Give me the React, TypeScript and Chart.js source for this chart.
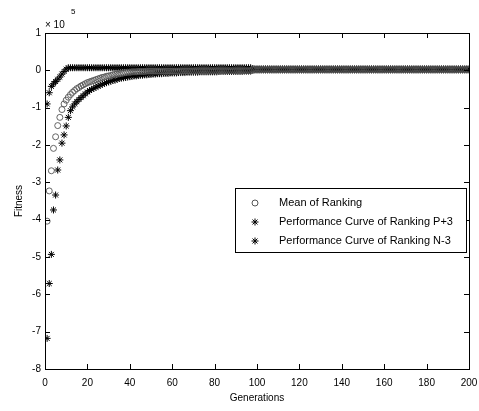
import React, { useEffect, useRef } from 'react';
import { Chart, registerables } from 'chart.js';

Chart.register(...registerables);

const GENERATIONS: number[] = Array.from({ length: 200 }, (_, i) => i + 1);

// Fitness values in units of 10^5
const MEAN_OF_RANKING: number[] = [
  -4.04, -3.23, -2.69, -2.09, -1.78, -1.48, -1.26, -1.05, -0.90, -0.80,
  -0.72, -0.65, -0.59, -0.54, -0.49, -0.46, -0.42, -0.39, -0.36, -0.33,
  -0.31, -0.29, -0.27, -0.25, -0.23, -0.21, -0.19, -0.18, -0.16, -0.15,
  -0.14, -0.12, -0.11, -0.10, -0.09, -0.08, -0.07, -0.06, -0.05, -0.05,
  -0.04, -0.04, -0.04, -0.03, -0.03, -0.03, -0.03, -0.02, -0.02, -0.02,
  -0.02, -0.02, -0.02, -0.02, -0.02, -0.02, -0.02, -0.02, -0.02, -0.02,
  -0.02, -0.02, -0.02, -0.015, -0.015, -0.015, -0.015, -0.015, -0.015, -0.015,
  -0.01, -0.01, -0.01, -0.01, -0.01, -0.01, -0.01, -0.01, -0.01, -0.01,
  -0.01, -0.01, -0.01, -0.01, -0.01, -0.01, -0.01, -0.01, -0.01, -0.01,
  -0.01, -0.01, -0.01, -0.01, -0.01, -0.01, -0.01, 0.02, 0.02, 0.02,
  0.02, 0.02, 0.02, 0.02, 0.02, 0.02, 0.02, 0.02, 0.02, 0.02,
  0.02, 0.02, 0.02, 0.02, 0.02, 0.02, 0.02, 0.02, 0.02, 0.02,
  0.02, 0.02, 0.02, 0.02, 0.02, 0.02, 0.02, 0.02, 0.02, 0.02,
  0.02, 0.02, 0.02, 0.02, 0.02, 0.02, 0.02, 0.02, 0.02, 0.02,
  0.02, 0.02, 0.02, 0.02, 0.02, 0.02, 0.02, 0.02, 0.02, 0.02,
  0.02, 0.02, 0.02, 0.02, 0.02, 0.02, 0.02, 0.02, 0.02, 0.02,
  0.02, 0.02, 0.02, 0.02, 0.02, 0.02, 0.02, 0.02, 0.02, 0.02,
  0.02, 0.02, 0.02, 0.02, 0.02, 0.02, 0.02, 0.02, 0.02, 0.02,
  0.02, 0.02, 0.02, 0.02, 0.02, 0.02, 0.02, 0.02, 0.02, 0.02,
  0.02, 0.02, 0.02, 0.02, 0.02, 0.02, 0.02, 0.02, 0.02, 0.02,
];

const RANKING_P3: number[] = [
  -7.18, -5.71, -4.93, -3.74, -3.34, -2.67, -2.40, -1.95, -1.73, -1.49,
  -1.26, -1.08, -0.98, -0.90, -0.84, -0.78, -0.73, -0.68, -0.63, -0.58,
  -0.54, -0.51, -0.48, -0.45, -0.42, -0.40, -0.37, -0.35, -0.33, -0.31,
  -0.29, -0.27, -0.26, -0.24, -0.22, -0.21, -0.20, -0.19, -0.18, -0.17,
  -0.16, -0.15, -0.15, -0.14, -0.13, -0.13, -0.12, -0.12, -0.11, -0.11,
  -0.10, -0.10, -0.09, -0.09, -0.09, -0.08, -0.08, -0.08, -0.07, -0.07,
  -0.07, -0.07, -0.06, -0.06, -0.06, -0.06, -0.05, -0.05, -0.05, -0.05,
  -0.05, -0.05, -0.04, -0.04, -0.04, -0.04, -0.04, -0.04, -0.04, -0.04,
  -0.04, -0.03, -0.03, -0.03, -0.03, -0.03, -0.03, -0.03, -0.03, -0.03,
  -0.03, -0.03, -0.03, -0.02, -0.02, -0.02, -0.02, 0.01, 0.01, 0.01,
  0.01, 0.01, 0.01, 0.01, 0.01, 0.01, 0.01, 0.01, 0.01, 0.01,
  0.01, 0.01, 0.01, 0.01, 0.01, 0.01, 0.01, 0.01, 0.01, 0.01,
  0.01, 0.01, 0.01, 0.01, 0.01, 0.01, 0.01, 0.01, 0.01, 0.01,
  0.01, 0.01, 0.01, 0.01, 0.01, 0.01, 0.01, 0.01, 0.01, 0.01,
  0.01, 0.01, 0.01, 0.01, 0.01, 0.01, 0.01, 0.01, 0.01, 0.01,
  0.01, 0.01, 0.01, 0.01, 0.01, 0.01, 0.01, 0.01, 0.01, 0.01,
  0.01, 0.01, 0.01, 0.01, 0.01, 0.01, 0.01, 0.01, 0.01, 0.01,
  0.01, 0.01, 0.01, 0.01, 0.01, 0.01, 0.01, 0.01, 0.01, 0.01,
  0.01, 0.01, 0.01, 0.01, 0.01, 0.01, 0.01, 0.01, 0.01, 0.01,
  0.01, 0.01, 0.01, 0.01, 0.01, 0.01, 0.01, 0.01, 0.01, 0.01,
];

const RANKING_N3: number[] = [
  -0.90, -0.60, -0.43, -0.36, -0.30, -0.24, -0.18, -0.10, -0.03, 0.03,
  0.07, 0.07, 0.07, 0.07, 0.07, 0.07, 0.07, 0.07, 0.07, 0.07,
  0.07, 0.07, 0.07, 0.07, 0.07, 0.07, 0.07, 0.07, 0.07, 0.07,
  0.07, 0.07, 0.07, 0.07, 0.07, 0.07, 0.07, 0.07, 0.07, 0.07,
  0.07, 0.07, 0.07, 0.07, 0.07, 0.07, 0.07, 0.07, 0.07, 0.07,
  0.07, 0.07, 0.07, 0.07, 0.07, 0.07, 0.07, 0.07, 0.07, 0.07,
  0.07, 0.07, 0.07, 0.07, 0.07, 0.07, 0.07, 0.07, 0.07, 0.07,
  0.07, 0.07, 0.07, 0.07, 0.07, 0.07, 0.07, 0.07, 0.07, 0.07,
  0.07, 0.07, 0.07, 0.07, 0.07, 0.07, 0.07, 0.07, 0.07, 0.07,
  0.07, 0.07, 0.07, 0.07, 0.07, 0.07, 0.07, 0.04, 0.04, 0.04,
  0.04, 0.04, 0.04, 0.04, 0.04, 0.04, 0.04, 0.04, 0.04, 0.04,
  0.04, 0.04, 0.04, 0.04, 0.04, 0.04, 0.04, 0.04, 0.04, 0.04,
  0.04, 0.04, 0.04, 0.04, 0.04, 0.04, 0.04, 0.04, 0.04, 0.04,
  0.04, 0.04, 0.04, 0.04, 0.04, 0.04, 0.04, 0.04, 0.04, 0.04,
  0.04, 0.04, 0.04, 0.04, 0.04, 0.04, 0.04, 0.04, 0.04, 0.04,
  0.04, 0.04, 0.04, 0.04, 0.04, 0.04, 0.04, 0.04, 0.04, 0.04,
  0.04, 0.04, 0.04, 0.04, 0.04, 0.04, 0.04, 0.04, 0.04, 0.04,
  0.04, 0.04, 0.04, 0.04, 0.04, 0.04, 0.04, 0.04, 0.04, 0.04,
  0.04, 0.04, 0.04, 0.04, 0.04, 0.04, 0.04, 0.04, 0.04, 0.04,
  0.04, 0.04, 0.04, 0.04, 0.04, 0.04, 0.04, 0.04, 0.04, 0.04,
];

const X_TICKS: number[] = [0, 20, 40, 60, 80, 100, 120, 140, 160, 180, 200];
const Y_TICKS: number[] = [-8, -7, -6, -5, -4, -3, -2, -1, 0, 1];
const LEGEND_LABELS: string[] = [
  'Mean of Ranking',
  'Performance Curve of Ranking P+3',
  'Performance Curve of Ranking N-3',
];
const X_TITLE = 'Generations';
const Y_TITLE = 'Fitness';

const FONT = 'Liberation Sans, Arial, Helvetica, sans-serif';

function drawStar(ctx: CanvasRenderingContext2D, x: number, y: number, r: number) {
  ctx.beginPath();
  ctx.moveTo(x - r, y); ctx.lineTo(x + r, y);
  ctx.moveTo(x, y - r); ctx.lineTo(x, y + r);
  const d = r * Math.SQRT1_2;
  ctx.moveTo(x - d, y - d); ctx.lineTo(x + d, y + d);
  ctx.moveTo(x - d, y + d); ctx.lineTo(x + d, y - d);
  ctx.stroke();
}

const framePlugin = {
  id: 'matlabFrame',
  beforeDraw(chart: any) {
    const ctx = chart.ctx;
    ctx.save();
    ctx.fillStyle = '#ffffff';
    ctx.fillRect(0, 0, chart.width, chart.height);
    ctx.restore();
  },
  afterDraw(chart: any) {
    const ctx: CanvasRenderingContext2D = chart.ctx;
    const { left, right, top, bottom } = chart.chartArea;
    const xs = chart.scales.x;
    const ys = chart.scales.y;
    ctx.save();
    ctx.strokeStyle = '#000';
    ctx.lineWidth = 1;
    // box
    ctx.strokeRect(Math.round(left) + 0.5, Math.round(top) + 0.5, Math.round(right - left), Math.round(bottom - top));
    // inward ticks
    const tl = 5;
    ctx.beginPath();
    X_TICKS.forEach((v) => {
      const px = Math.round(xs.getPixelForValue(v)) + 0.5;
      ctx.moveTo(px, bottom); ctx.lineTo(px, bottom - tl);
      ctx.moveTo(px, top); ctx.lineTo(px, top + tl);
    });
    Y_TICKS.forEach((v) => {
      const py = Math.round(ys.getPixelForValue(v)) + 0.5;
      ctx.moveTo(left, py); ctx.lineTo(left + tl, py);
      ctx.moveTo(right, py); ctx.lineTo(right - tl, py);
    });
    ctx.stroke();

    // exponent label
    ctx.fillStyle = '#000';
    ctx.font = `10px ${FONT}`;
    ctx.textAlign = 'left';
    ctx.textBaseline = 'middle';
    ctx.fillText('\u00d7 10', left, 25);
    ctx.font = `8px ${FONT}`;
    ctx.fillText('5', left + 26, 12);

    // axis titles
    ctx.font = `10px ${FONT}`;
    ctx.textAlign = 'center';
    ctx.textBaseline = 'middle';
    ctx.fillText(X_TITLE, (left + right) / 2, 398);
    ctx.save();
    ctx.translate(19, (top + bottom) / 2);
    ctx.rotate(-Math.PI / 2);
    ctx.fillText(Y_TITLE, 0, 0);
    ctx.restore();

    // legend
    const lx = 235, ly = 188, lw = 231, lh = 64;
    ctx.fillStyle = '#fff';
    ctx.fillRect(lx, ly, lw, lh);
    ctx.strokeStyle = '#000';
    ctx.strokeRect(lx + 0.5, ly + 0.5, lw, lh);
    const rows = [203, 222, 241];
    rows.forEach((ry, i) => {
      ctx.strokeStyle = i === 0 ? '#555' : '#000';
      ctx.lineWidth = 1;
      if (i === 0) {
        ctx.beginPath();
        ctx.arc(255, ry, 3, 0, Math.PI * 2);
        ctx.stroke();
      } else {
        drawStar(ctx, 255, ry, 3.5);
      }
      ctx.fillStyle = '#000';
      ctx.font = `11px ${FONT}`;
      ctx.textAlign = 'left';
      ctx.textBaseline = 'middle';
      ctx.fillText(LEGEND_LABELS[i], 279, ry);
    });
    ctx.restore();
  },
};

export default function App() {
  const ref = useRef<HTMLCanvasElement | null>(null);

  useEffect(() => {
    document.body.style.margin = '0';
    const canvas = ref.current;
    if (!canvas) return;
    const toPoints = (vals: number[]) => vals.map((v, i) => ({ x: GENERATIONS[i], y: v }));
    const chart = new Chart(canvas, {
      type: 'scatter',
      data: {
        datasets: [
          {
            label: LEGEND_LABELS[0],
            data: toPoints(MEAN_OF_RANKING),
            pointStyle: 'circle',
            pointRadius: 3,
            borderColor: '#555',
            backgroundColor: 'rgba(0,0,0,0)',
            borderWidth: 0.9,
            showLine: false,
          },
          {
            label: LEGEND_LABELS[1],
            data: toPoints(RANKING_P3),
            pointStyle: 'star',
            pointRadius: 3.5,
            borderColor: '#000',
            backgroundColor: '#000',
            borderWidth: 1,
            showLine: false,
          },
          {
            label: LEGEND_LABELS[2],
            data: toPoints(RANKING_N3),
            pointStyle: 'star',
            pointRadius: 3.5,
            borderColor: '#000',
            backgroundColor: '#000',
            borderWidth: 1,
            showLine: false,
          },
        ],
      },
      options: {
        responsive: false,
        animation: false,
        devicePixelRatio: 1,
        layout: { padding: { left: 0, top: 33, right: 10, bottom: 0 } },
        plugins: {
          legend: { display: false },
          tooltip: { enabled: false },
          title: { display: false },
        },
        scales: {
          x: {
            type: 'linear',
            min: 0,
            max: 200,
            afterBuildTicks: (s: any) => { s.ticks = X_TICKS.map((v) => ({ value: v })); },
            afterFit: (s: any) => { s.height = 42; s.paddingLeft = 0; s.paddingRight = 0; },
            grid: { display: false, drawTicks: false },
            border: { display: false },
            ticks: {
              autoSkip: false,
              maxRotation: 0,
              padding: 8,
              color: '#000',
              font: { family: FONT, size: 10 },
            },
          },
          y: {
            type: 'linear',
            min: -8,
            max: 1,
            afterBuildTicks: (s: any) => { s.ticks = Y_TICKS.map((v) => ({ value: v })); },
            afterFit: (s: any) => { s.width = 45; s.paddingTop = 0; s.paddingBottom = 0; },
            grid: { display: false, drawTicks: false },
            border: { display: false },
            ticks: {
              autoSkip: false,
              padding: 4,
              color: '#000',
              font: { family: FONT, size: 10 },
            },
          },
        },
      },
      plugins: [framePlugin],
    } as any);
    return () => chart.destroy();
  }, []);

  return <canvas ref={ref} width={479} height={411} style={{ display: 'block' }} />;
}
